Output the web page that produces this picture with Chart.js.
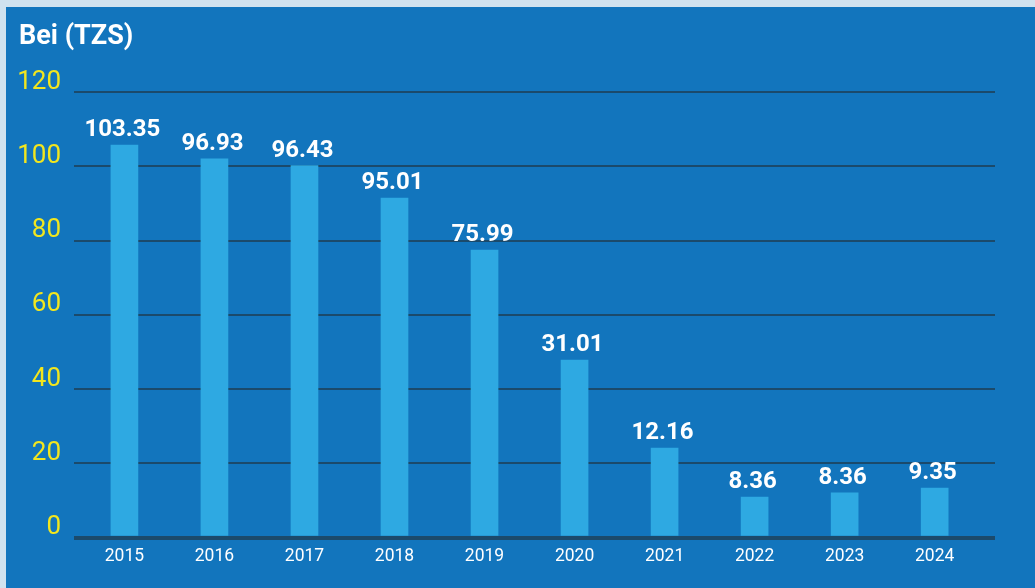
<!DOCTYPE html>
<html lang="sw">
<head>
  <meta charset="UTF-8" />
  <title>Bei (TZS)</title>
  <script src="https://cdn.jsdelivr.net/npm/chart.js"></script>
  <style>
    body {
      margin: 0;
      background-color: #d0e2ef;
      font-family: Roboto, Arial, sans-serif;
    }
    #panel {
      position: absolute;
      left: 6px;
      top: 7px;
      width: 1029px;
      height: 581px;
      background-color: #1275bd;
    }
  </style>
</head>
<body>
  <div id="panel">
    <canvas id="priceChart" width="1029" height="581"></canvas>
  </div>

  <script>
    // years on the x axis
    const years = [2015, 2016, 2017, 2018, 2019, 2020, 2021, 2022, 2023, 2024];
    // bar heights as drawn against the y axis
    const barHeights = [105.7, 102.0, 100.2, 91.4, 77.4, 47.8, 24.1, 10.9, 12.0, 13.3];
    // value labels printed above each bar
    const valueLabels = ["103.35", "96.93", "96.43", "95.01", "75.99", "31.01", "12.16", "8.36", "8.36", "9.35"];
    const yTicks = [0, 20, 40, 60, 80, 100, 120];

    const titlePlugin = {
      id: "panelTitle",
      afterDraw(chart) {
        const ctx = chart.ctx;
        ctx.save();
        ctx.fillStyle = "#ffffff";
        ctx.font = "bold 27px Roboto";
        ctx.textAlign = "left";
        ctx.textBaseline = "alphabetic";
        ctx.fillText("Bei (TZS)", 13, 37);
        ctx.restore();
      }
    };

    const valueLabelPlugin = {
      id: "valueLabels",
      afterDatasetsDraw(chart) {
        const ctx = chart.ctx;
        const meta = chart.getDatasetMeta(0);
        ctx.save();
        ctx.fillStyle = "#ffffff";
        ctx.font = "bold 24px Roboto";
        ctx.textAlign = "center";
        ctx.textBaseline = "alphabetic";
        meta.data.forEach((bar, i) => {
          ctx.fillText(valueLabels[i], bar.x - 2, bar.y - 9);
        });
        ctx.restore();
      }
    };

    const ctx = document.getElementById("priceChart").getContext("2d");
    new Chart(ctx, {
      type: "bar",
      data: {
        datasets: [{
          data: years.map((yr, i) => ({ x: yr, y: barHeights[i] })),
          backgroundColor: "#2ea9e2",
          borderWidth: 0,
          barThickness: 27
        }]
      },
      options: {
        responsive: false,
        animation: false,
        layout: {
          padding: { top: 85, right: 40, left: 0, bottom: 0 }
        },
        plugins: {
          legend: { display: false },
          tooltip: { enabled: false }
        },
        scales: {
          x: {
            type: "linear",
            offset: false,
            min: 2014.44,
            max: 2024.67,
            afterFit: s => { s.height = 50.5; },
            afterBuildTicks: s => { s.ticks = years.map(v => ({ value: v })); },
            grid: { display: false },
            border: { display: false },
            ticks: {
              color: "#ffffff",
              padding: 1,
              font: { family: "Roboto", size: 17.5 },
              callback: v => String(v),
              maxRotation: 0
            }
          },
          y: {
            min: 0,
            max: 120,
            afterFit: s => { s.width = 68; },
            afterBuildTicks: s => { s.ticks = yTicks.map(v => ({ value: v })); },
            border: { display: false },
            grid: {
              drawTicks: false,
              color: "#1b4a6b",
              lineWidth: c => (c.tick && c.tick.value === 0 ? 4 : 2)
            },
            ticks: {
              color: "#f2e61e",
              padding: 13,
              labelOffset: -10,
              font: { family: "Roboto", size: 26, weight: "400" }
            }
          }
        }
      },
      plugins: [titlePlugin, valueLabelPlugin]
    });
  </script>
</body>
</html>
